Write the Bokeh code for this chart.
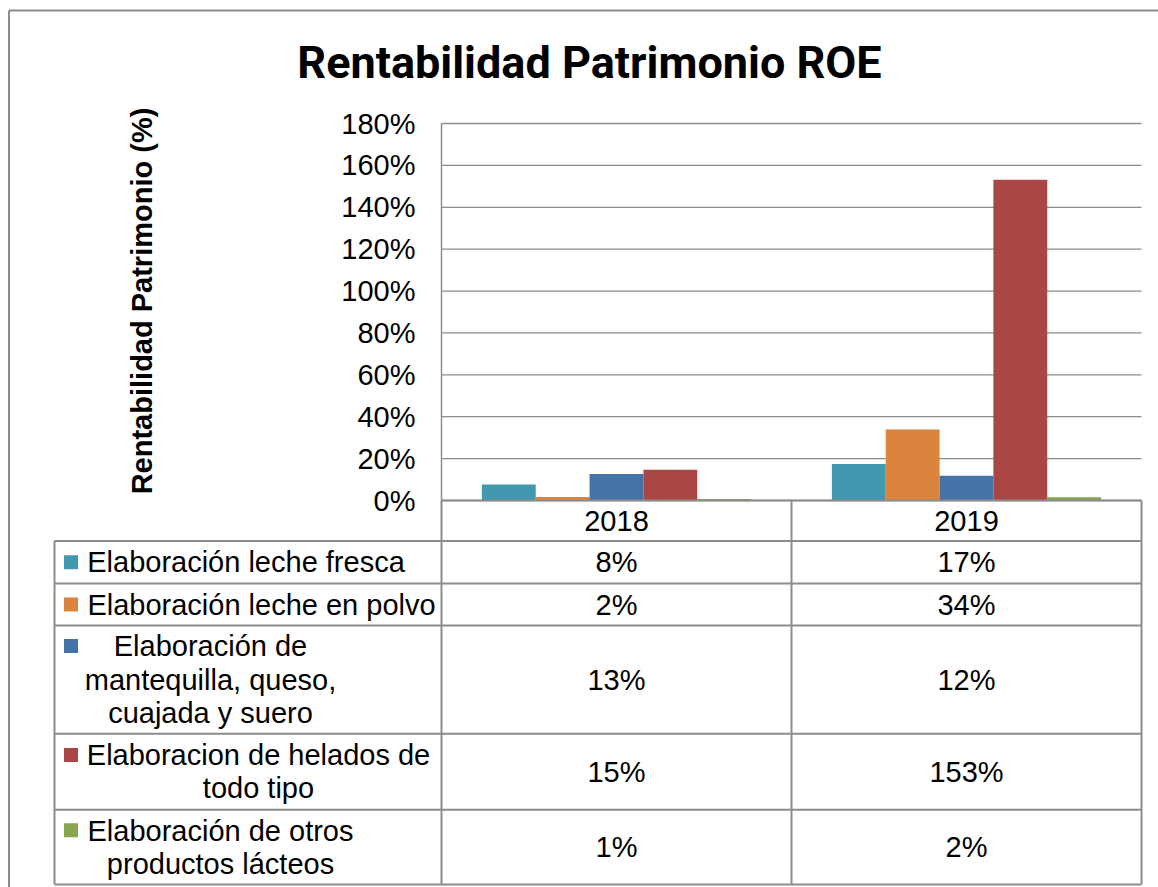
from bokeh.plotting import figure
from bokeh.models import Range1d, FixedTicker, NumeralTickFormatter, LinearAxis
from bokeh.embed import file_html
from bokeh.resources import INLINE
from bokeh.core.properties import value

# ---------------- data ----------------
years = ["2018", "2019"]
series = [
    "Elaboración leche fresca",
    "Elaboración leche en polvo",
    "Elaboración de mantequilla, queso, cuajada y suero",
    "Elaboracion de helados de todo tipo",
    "Elaboración de otros productos lácteos",
]
series_wrapped = [
    "Elaboración leche fresca",
    "Elaboración leche en polvo",
    "Elaboración de\nmantequilla, queso,\ncuajada y suero",
    "Elaboracion de helados de\ntodo tipo",
    "Elaboración de otros\nproductos lácteos",
]
roe_2018 = [0.076, 0.017, 0.126, 0.147, 0.007]
roe_2019 = [0.174, 0.339, 0.118, 1.532, 0.016]
roe = {"2018": roe_2018, "2019": roe_2019}
colors = ["#4198AF", "#DB843D", "#4572A7", "#AA4643", "#89A54E"]
y_ticks = [0.0, 0.2, 0.4, 0.6, 0.8, 1.0, 1.2, 1.4, 1.6, 1.8]
title_text = "Rentabilidad Patrimonio ROE"
y_label = "Rentabilidad Patrimonio (%)"

# ---------------- layout constants (pixels) ----------------
W, H = 1158, 887
PLOT_L, CAT_W = 441, 350.0      # left of plot area, width of one category
Y0_PX, Y_TOP_PX = 500, 123       # pixel rows of 0% and 180%
Y_MAX = 1.8
GRAY = "#8c8c8c"
FONT = "Liberation Sans"

ppu_y = (Y0_PX - Y_TOP_PX) / Y_MAX
x_rng = Range1d(-PLOT_L / CAT_W, (W - PLOT_L) / CAT_W)
y_rng = Range1d(-(H - Y0_PX) / ppu_y, Y0_PX / ppu_y)

p = figure(width=W, height=H, x_range=x_rng, y_range=y_rng,
           output_backend="svg", toolbar_location=None,
           x_axis_location=None, y_axis_location=None,
           min_border_left=0, min_border_right=0, min_border_top=0, min_border_bottom=0)
p.outline_line_color = None
p.grid.visible = False
p.background_fill_color = "white"
p.border_fill_color = "white"
p.extra_x_ranges = {"px": Range1d(0, W)}
p.extra_y_ranges = {"px": Range1d(H, 0)}
PX = dict(x_range_name="px", y_range_name="px")

# gridlines (value space)
ncat = len(years)
p.segment(x0=[0] * len(y_ticks), y0=y_ticks, x1=[ncat] * len(y_ticks), y1=y_ticks,
          line_color=GRAY, line_width=1.3)

# bars
n = len(series)
bw = 1.0 / (n + 1.5)
for i, s in enumerate(series):
    xs = [j + 0.5 + (i - (n - 1) / 2) * bw for j in range(ncat)]
    tops = [roe[y][i] for y in years]
    p.vbar(x=xs, top=tops, bottom=0, width=bw, fill_color=colors[i], line_color=None)

# value axis line
p.segment(x0=[0], y0=[0], x1=[0], y1=[Y_MAX], line_color=GRAY, line_width=1.5)

ax = LinearAxis(fixed_location=0, bounds=(0, 1.905))
ax.ticker = FixedTicker(ticks=y_ticks)
ax.formatter = NumeralTickFormatter(format="0%")
ax.major_tick_line_color = None
ax.minor_tick_line_color = None
ax.major_tick_out = 0
ax.major_tick_in = 0
ax.major_label_standoff = 26
ax.major_label_text_font = FONT
ax.major_label_text_font_size = "29px"
ax.major_label_text_color = "black"
ax.axis_line_color = None
ax.axis_label = y_label
ax.axis_label_text_font = FONT
ax.axis_label_text_font_style = "bold"
ax.axis_label_text_font_size = "29px"
ax.axis_label_text_color = "black"
ax.axis_label_standoff = 180
p.add_layout(ax, "left")

# title
p.text(x=[589], y=[62], text=[title_text], text_align="center", text_baseline="alphabetic",
       text_font=value("Roboto"), text_font_style="bold", text_font_size="45px",
       text_color="black", **PX)

# outer chart border (left and top edges visible)
p.segment(x0=[8.5, 8.5], y0=[10, 10], x1=[8.5, W + 5], y1=[H + 5, 10],
          line_color=GRAY, line_width=2, **PX)

# ---------------- data table ----------------
col_x = [54, PLOT_L, PLOT_L + CAT_W, PLOT_L + 2 * CAT_W]
row_y = [Y0_PX, 540.5, 583, 625, 733.3, 809.3, 884]

x0s, y0s, x1s, y1s = [], [], [], []
x0s.append(col_x[1]); y0s.append(row_y[0]); x1s.append(col_x[-1]); y1s.append(row_y[0])
for yy in row_y[1:]:
    x0s.append(col_x[0]); y0s.append(yy); x1s.append(col_x[-1]); y1s.append(yy)
x0s.append(col_x[0]); y0s.append(row_y[1]); x1s.append(col_x[0]); y1s.append(row_y[-1])
for xx in col_x[1:]:
    x0s.append(xx); y0s.append(row_y[0]); x1s.append(xx); y1s.append(row_y[-1])
p.segment(x0=x0s, y0=y0s, x1=x1s, y1=y1s, line_color=GRAY, line_width=2, **PX)

col_cx = [(col_x[k + 1] + col_x[k + 2]) / 2 for k in range(ncat)]
row_cy = [(row_y[k] + row_y[k + 1]) / 2 for k in range(len(row_y) - 1)]

txt = dict(text_font=value(FONT), text_font_size="29px", text_align="center",
           text_baseline="middle", text_color="black", **PX)
p.text(x=col_cx, y=[row_cy[0]] * ncat, text=years, **txt)

vx, vy, vt = [], [], []
for j, yr in enumerate(years):
    for i in range(n):
        vx.append(col_cx[j]); vy.append(row_cy[i + 1]); vt.append(f"{roe[yr][i] * 100:.0f}%")
p.text(x=vx, y=vy, text=vt, **txt)

label_cx = [245.5, 261, 210, 258, 220]
line_h = 33.7
p.text(x=label_cx, y=row_cy[1:], text=series_wrapped, text_line_height=1.04, **txt)

mk_y = [row_cy[i + 1] - (series_wrapped[i].count("\n")) / 2 * line_h for i in range(n)]
p.rect(x=[70.5] * n, y=mk_y, width=14, height=14, fill_color=colors, line_color=None, **PX)

open("out.html", "w").write(file_html(p, INLINE))
